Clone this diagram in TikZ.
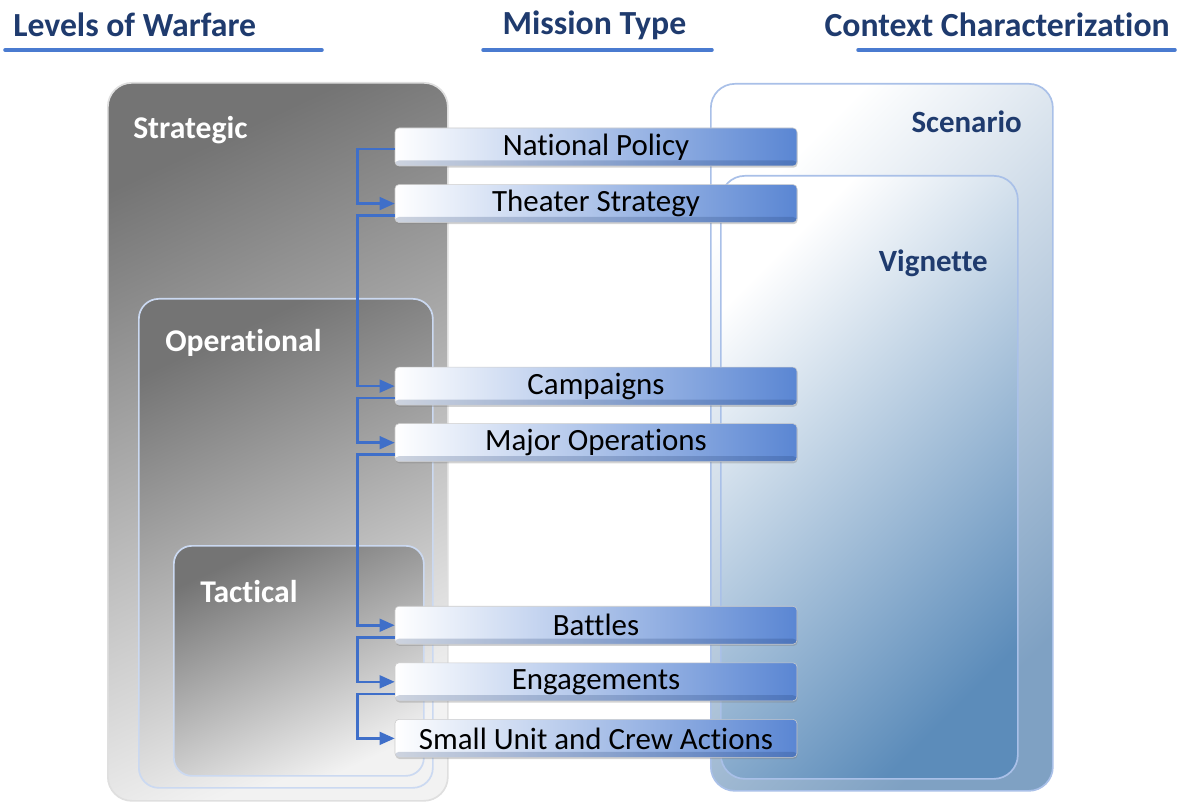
\documentclass[tikz,border=0pt]{standalone}
\usepackage{fontspec}
\setmainfont{Carlito}[Ligatures=NoCommon]
\usetikzlibrary{positioning, arrows.meta, shadows}

\definecolor{navy}{HTML}{1F3B6E}
\definecolor{ruleblue}{HTML}{4A7BD0}
\definecolor{linkblue}{HTML}{3F6FC9}
\definecolor{missionblue}{HTML}{5A86D3}
\definecolor{missionmid}{HTML}{9CB6E8}
\definecolor{levelDark}{HTML}{747474}
\definecolor{levelLight}{HTML}{F2F2F2}
\definecolor{contextMid}{HTML}{DDE4EC}
\definecolor{contextDark}{HTML}{7FA1C3}
\definecolor{vignetteMid}{HTML}{C3CFDB}
\definecolor{vignetteDark}{HTML}{5C8CBA}
\definecolor{frameblue}{HTML}{A9C0E8}

\begin{document}
\begin{tikzpicture}[
    heading/.style={font=\bfseries\fontsize{24}{28}\selectfont, text=navy, inner sep=0pt},
    headrule/.style={line width=2.5pt, draw=ruleblue, line cap=round},
    level/.style={rectangle, inner sep=0pt, line width=1.2pt, top color=levelDark, bottom color=levelLight, shading angle=25},
    levellabel/.style={font=\bfseries\fontsize{22.5}{26}\selectfont, text=white, anchor=west, inner sep=0pt},
    context/.style={rectangle, inner sep=0pt, rounded corners=0.6cm, line width=1.2pt, draw=frameblue},
    contextlabel/.style={font=\bfseries\fontsize{22}{26}\selectfont, text=navy, anchor=east, inner sep=0pt},
    mission/.style={rectangle, rounded corners=0.1cm, minimum width=10.05cm, minimum height=0.95cm, draw=gray!40,
        left color=white, middle color=missionmid, right color=missionblue, font=\fontsize{22}{26}\selectfont,
        drop shadow={shadow xshift=0.4pt, shadow yshift=-1.2pt, opacity=0.35},
        path picture={\fill[navy, opacity=0.22] (path picture bounding box.south west) rectangle ([yshift=0.14cm]path picture bounding box.south east);}},
    link/.style={line width=1.8pt, draw=linkblue, -{Triangle[length=0.38cm, width=0.32cm]}}
    ]
    \useasboundingbox (0,0) rectangle (29.45,-20.075);

    % column headings
    \node (hlevels) [heading, anchor=west] at (0.325,-0.625) {Levels of Warfare};
    \node (hmission) [heading] at (14.86,-0.625) {Mission Type};
    \node (hcontext) [heading, anchor=east] at (29.25,-0.625) {Context Characterization};
    \draw [headrule] (0.125,-1.25) -- (8.05,-1.25);
    \draw [headrule] (12.075,-1.25) -- (17.8,-1.25);
    \draw [headrule] (21.45,-1.25) -- (29.375,-1.25);

    % levels of warfare
    \node (strategic) [level, rounded corners=0.6cm, draw=gray!25, minimum width=8.5cm, minimum height=17.95cm, anchor=north west] at (2.675,-2.05) {};
    \node (strategiclabel) [levellabel] at (3.325,-3.25) {Strategic};
    \node (operational) [level, rounded corners=0.5cm, draw=frameblue!60, minimum width=7.35cm, minimum height=12.225cm, anchor=north west] at (3.45,-7.45) {};
    \node (operationallabel) [levellabel] at (4.125,-8.575) {Operational};
    \node (tactical) [level, rounded corners=0.45cm, draw=frameblue!60, minimum width=6.25cm, minimum height=5.75cm, anchor=north west] at (4.325,-13.625) {};
    \node (tacticallabel) [levellabel] at (5.0,-14.8) {Tactical};

    % context characterization
    \node (scenario) [context, top color=white, middle color=contextMid, bottom color=contextDark, shading angle=45, minimum width=8.55cm, minimum height=17.675cm, anchor=north west] at (17.75,-2.075) {};
    \node (scenariolabel) [contextlabel] at (25.55,-3.05) {Scenario};
    \node (vignette) [context, top color=white, middle color=vignetteMid, bottom color=vignetteDark, shading angle=45, minimum width=7.425cm, minimum height=15.075cm, anchor=north west] at (18.0,-4.375) {};
    \node (vignettelabel) [contextlabel] at (24.7,-6.575) {Vignette};

    % mission types
    \node (policy) [mission] at (14.9,-3.675) {National Policy};
    \node (theater) [mission, below=0.45cm of policy] {Theater Strategy};
    \node (campaigns) [mission, below=3.6cm of theater] {Campaigns};
    \node (majorops) [mission, below=0.45cm of campaigns] {Major Operations};
    \node (battles) [mission, below=3.6cm of majorops] {Battles};
    \node (engagements) [mission, below=0.45cm of battles] {Engagements};
    \node (smallunit) [mission, below=0.45cm of engagements] {Small Unit and Crew Actions};

    % links down the chain
    \draw [link] ([yshift=-0.05cm]policy.west) -- ++(-0.925,0) |- (theater.west);
    \draw [link] ([yshift=-0.3cm]theater.west) -- ++(-0.925,0) |- (campaigns.west);
    \draw [link] ([yshift=-0.3cm]campaigns.west) -- ++(-0.925,0) |- (majorops.west);
    \draw [link] ([yshift=-0.3cm]majorops.west) -- ++(-0.925,0) |- (battles.west);
    \draw [link] ([yshift=-0.3cm]battles.west) -- ++(-0.925,0) |- (engagements.west);
    \draw [link] ([yshift=-0.3cm]engagements.west) -- ++(-0.925,0) |- (smallunit.west);

\end{tikzpicture}
\end{document}
